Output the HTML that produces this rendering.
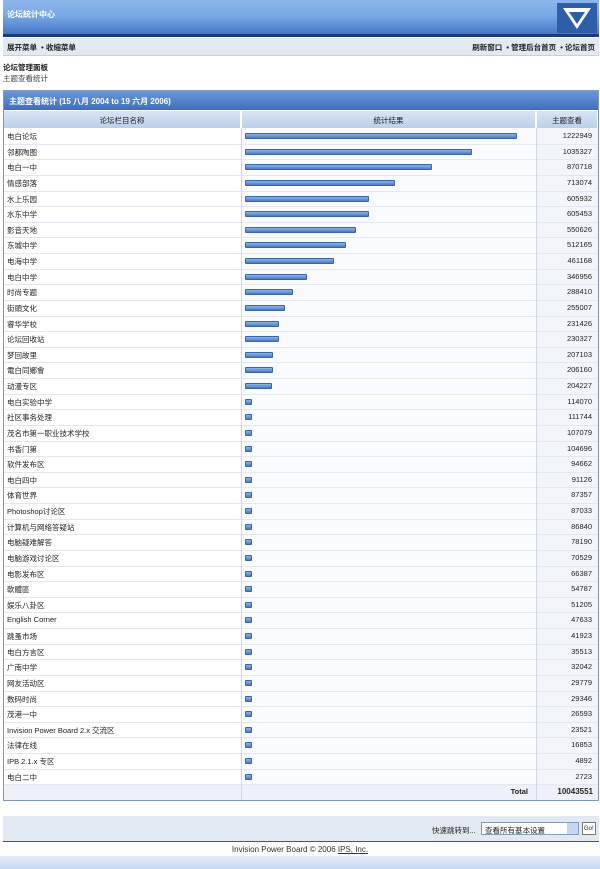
<!DOCTYPE html>
<html><head><meta charset="utf-8"><style>
*{margin:0;padding:0;box-sizing:border-box}
body{width:600px;height:869px;background:#fff;font-family:"Liberation Sans","Noto Sans CJK SC",sans-serif;font-size:8px;color:#222;position:relative;overflow:hidden}
.abs{position:absolute}
#top{left:3px;top:0;width:596px;height:37px;background:linear-gradient(#8db6ec 0,#7aa8e6 45%,#4577c6 100%);border-bottom:3px solid #1c3a78}
#top .t{left:4px;top:9px;color:#fff;font-weight:bold;font-size:8px}
#logo{right:2px;top:3px;width:40px;height:30px;background:#2f5ea8}
#nav{left:3px;top:38px;width:596px;height:18px;background:#e3e9f2;border-bottom:1px solid #c6d0de}
#nav span{position:absolute;top:4px;font-weight:bold;font-size:7.5px}
#tbl{left:3px;top:90px;width:596px;height:711px;border:1px solid #7f96bd;background:#fff;overflow:hidden}
#tt{left:0;top:0;width:594px;height:19px;background:linear-gradient(#6b98d8,#3f6dbc);color:#fff;font-weight:bold;font-size:8px;padding:5px 5px}
.hd{top:20px;height:17px;background:linear-gradient(#d9e5f5,#bccfea);text-align:center;padding-top:4px;font-size:7.5px;border-right:1px solid #fff}
#rows{left:0;top:38px;width:594px}
.r{position:relative;width:594px;height:15.63px;border-bottom:1px solid #e2e8f0}
.r .n{position:absolute;left:3px;top:2px;font-size:7.5px}
.r .v{position:absolute;right:6px;top:2px;font-size:7.5px}
.r .b{position:absolute;left:241px;top:4px;height:6px;background:linear-gradient(#8fb3e6,#4a7cc8);border:1px solid #3b64a8;border-radius:1px}
.c1{left:237px;top:37px;width:1px;height:672px;background:#cdd7e5}
.c2{left:532px;top:37px;width:1px;height:672px;background:#cdd7e5}
.bg2{left:238px;top:37px;width:294px;height:672px;background:#f9fbfe}
.bg3{left:533px;top:37px;width:61px;height:672px;background:#f2f5fa}
#qj{left:3px;top:816px;width:596px;height:26px;background:#e3e9f2;border-bottom:1px solid #555}
#scroll{left:0;top:856px;width:600px;height:13px;background:linear-gradient(#e6eefa,#c7d8f2)}
</style></head><body>
<div id="top" class="abs"><div class="t abs">论坛统计中心</div><div id="logo" class="abs"><svg width="40" height="30"><polygon points="6,5 34,5 20,26" fill="#fff"/><polygon points="12,9 28,9 20,21" fill="#2f5ea8"/></svg></div></div>
<div id="nav" class="abs"><span style="left:4px">展开菜单 &nbsp;• 收缩菜单</span><span style="right:4px">刷新窗口 &nbsp;• 管理后台首页 &nbsp;• 论坛首页</span></div>
<div class="abs" style="left:3px;top:62px;font-weight:bold;font-size:7.5px">论坛管理面板</div>
<div class="abs" style="left:3px;top:73px;font-size:7.5px;color:#444">主题查看统计</div>
<div id="tbl" class="abs">
<div id="tt" class="abs">主题查看统计 (15 八月 2004 to 19 六月 2006)</div>
<div class="hd abs" style="left:0;width:237px">论坛栏目名称</div>
<div class="hd abs" style="left:238px;width:294px">统计结果</div>
<div class="hd abs" style="left:533px;width:61px">主题查看</div>
<div class="bg2 abs"></div><div class="bg3 abs"></div>
<div id="rows" class="abs">
<div class="r"><span class="n">电白论坛</span><span class="b" style="width:272px"></span><span class="v">1222949</span></div>
<div class="r"><span class="n">邻都陶图</span><span class="b" style="width:227px"></span><span class="v">1035327</span></div>
<div class="r"><span class="n">电白一中</span><span class="b" style="width:187px"></span><span class="v">870718</span></div>
<div class="r"><span class="n">情感部落</span><span class="b" style="width:150px"></span><span class="v">713074</span></div>
<div class="r"><span class="n">水上乐园</span><span class="b" style="width:124px"></span><span class="v">605932</span></div>
<div class="r"><span class="n">水东中学</span><span class="b" style="width:124px"></span><span class="v">605453</span></div>
<div class="r"><span class="n">影音天地</span><span class="b" style="width:111px"></span><span class="v">550626</span></div>
<div class="r"><span class="n">东城中学</span><span class="b" style="width:101px"></span><span class="v">512165</span></div>
<div class="r"><span class="n">电海中学</span><span class="b" style="width:89px"></span><span class="v">461168</span></div>
<div class="r"><span class="n">电白中学</span><span class="b" style="width:62px"></span><span class="v">346956</span></div>
<div class="r"><span class="n">时尚专题</span><span class="b" style="width:48px"></span><span class="v">288410</span></div>
<div class="r"><span class="n">街頭文化</span><span class="b" style="width:40px"></span><span class="v">255007</span></div>
<div class="r"><span class="n">睿华学校</span><span class="b" style="width:34px"></span><span class="v">231426</span></div>
<div class="r"><span class="n">论坛回收站</span><span class="b" style="width:34px"></span><span class="v">230327</span></div>
<div class="r"><span class="n">梦回故里</span><span class="b" style="width:28px"></span><span class="v">207103</span></div>
<div class="r"><span class="n">電白同鄉會</span><span class="b" style="width:28px"></span><span class="v">206160</span></div>
<div class="r"><span class="n">动漫专区</span><span class="b" style="width:27px"></span><span class="v">204227</span></div>
<div class="r"><span class="n">电白实验中学</span><span class="b" style="width:7px"></span><span class="v">114070</span></div>
<div class="r"><span class="n">社区事务处理</span><span class="b" style="width:7px"></span><span class="v">111744</span></div>
<div class="r"><span class="n">茂名市第一职业技术学校</span><span class="b" style="width:7px"></span><span class="v">107079</span></div>
<div class="r"><span class="n">书香门第</span><span class="b" style="width:7px"></span><span class="v">104696</span></div>
<div class="r"><span class="n">软件发布区</span><span class="b" style="width:7px"></span><span class="v">94662</span></div>
<div class="r"><span class="n">电白四中</span><span class="b" style="width:7px"></span><span class="v">91126</span></div>
<div class="r"><span class="n">体育世界</span><span class="b" style="width:7px"></span><span class="v">87357</span></div>
<div class="r"><span class="n">Photoshop讨论区</span><span class="b" style="width:7px"></span><span class="v">87033</span></div>
<div class="r"><span class="n">计算机与网络答疑站</span><span class="b" style="width:7px"></span><span class="v">86840</span></div>
<div class="r"><span class="n">电脑疑难解答</span><span class="b" style="width:7px"></span><span class="v">78190</span></div>
<div class="r"><span class="n">电脑游戏讨论区</span><span class="b" style="width:7px"></span><span class="v">70529</span></div>
<div class="r"><span class="n">电影发布区</span><span class="b" style="width:7px"></span><span class="v">66387</span></div>
<div class="r"><span class="n">軟體區</span><span class="b" style="width:7px"></span><span class="v">54787</span></div>
<div class="r"><span class="n">娱乐八卦区</span><span class="b" style="width:7px"></span><span class="v">51205</span></div>
<div class="r"><span class="n">English Corner</span><span class="b" style="width:7px"></span><span class="v">47633</span></div>
<div class="r"><span class="n">跳蚤市场</span><span class="b" style="width:7px"></span><span class="v">41923</span></div>
<div class="r"><span class="n">电白方言区</span><span class="b" style="width:7px"></span><span class="v">35513</span></div>
<div class="r"><span class="n">广南中学</span><span class="b" style="width:7px"></span><span class="v">32042</span></div>
<div class="r"><span class="n">网友活动区</span><span class="b" style="width:7px"></span><span class="v">29779</span></div>
<div class="r"><span class="n">数码时尚</span><span class="b" style="width:7px"></span><span class="v">29346</span></div>
<div class="r"><span class="n">茂港一中</span><span class="b" style="width:7px"></span><span class="v">26593</span></div>
<div class="r"><span class="n">Invision Power Board 2.x 交流区</span><span class="b" style="width:7px"></span><span class="v">23521</span></div>
<div class="r"><span class="n">法律在线</span><span class="b" style="width:7px"></span><span class="v">16853</span></div>
<div class="r"><span class="n">IPB 2.1.x 专区</span><span class="b" style="width:7px"></span><span class="v">4892</span></div>
<div class="r"><span class="n">电白二中</span><span class="b" style="width:7px"></span><span class="v">2723</span></div>
<div class="r" style="height:15px;border:none;background:#eef2f8"><span class="v" style="right:70px;font-weight:bold">Total</span><span class="v" style="font-weight:bold;font-size:8px;right:5px">10043551</span></div>
</div>
<div class="c1 abs"></div><div class="c2 abs"></div>
</div>
<div id="qj" class="abs"><span class="abs" style="left:429px;top:9px;font-size:7.5px">快速跳转到...</span>
<div class="abs" style="left:478px;top:6px;width:98px;height:13px;background:#fff;border:1px solid #7f9db9;font-size:7.5px;padding:2px 3px">查看所有基本设置<span class="abs" style="right:0;top:0;width:11px;height:11px;background:#c6d6f2"></span></div>
<div class="abs" style="left:579px;top:6px;width:14px;height:13px;background:#fff;border:1px solid #777;font-size:6px;padding:3px 1px">Go!</div></div>
<div class="abs" style="left:0;top:845px;width:600px;text-align:center;font-size:8px;color:#333">Invision Power Board © 2006 <u>IPS, Inc.</u></div>
<div id="scroll" class="abs"></div>
</body></html>
